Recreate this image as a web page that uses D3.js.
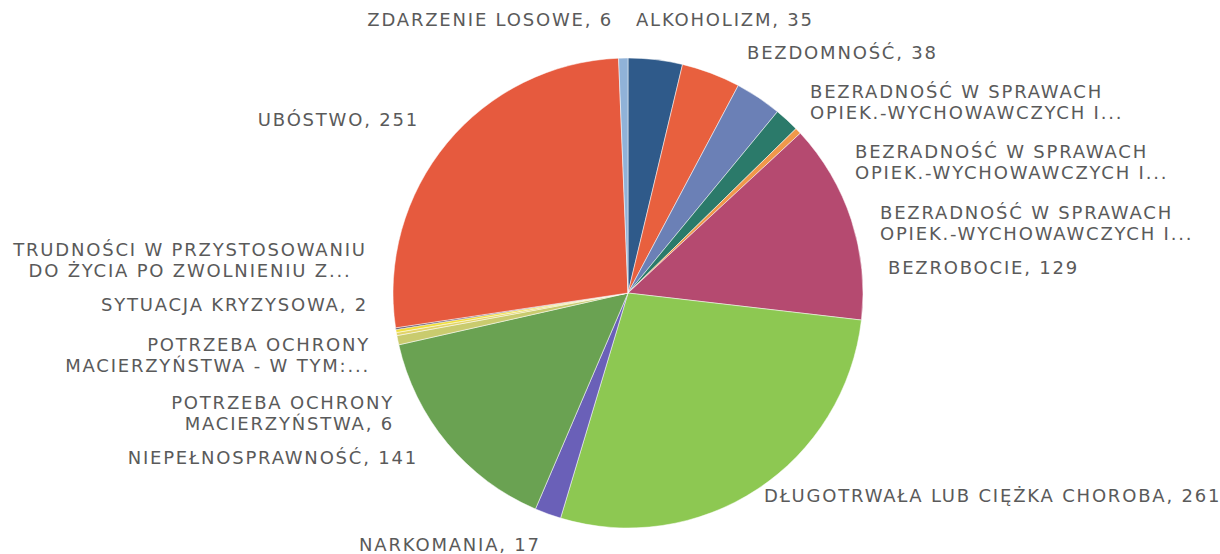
<!DOCTYPE html>
<html><head><meta charset="utf-8">
<script src="https://cdn.jsdelivr.net/npm/d3@7"></script>
<style>html,body{margin:0;padding:0;background:#fff;}svg{display:block;}</style>
</head><body>
<svg id="chart" width="1220" height="554"></svg>
<script>
const categories = [
  "ALKOHOLIZM","BEZDOMNOŚĆ",
  "BEZRADNOŚĆ W SPRAWACH OPIEK.-WYCHOWAWCZYCH I... (1)",
  "BEZRADNOŚĆ W SPRAWACH OPIEK.-WYCHOWAWCZYCH I... (2)",
  "BEZRADNOŚĆ W SPRAWACH OPIEK.-WYCHOWAWCZYCH I... (3)",
  "BEZROBOCIE","DŁUGOTRWAŁA LUB CIĘŻKA CHOROBA","NARKOMANIA","NIEPEŁNOSPRAWNOŚĆ",
  "POTRZEBA OCHRONY MACIERZYŃSTWA","POTRZEBA OCHRONY MACIERZYŃSTWA - W TYM:...",
  "SYTUACJA KRYZYSOWA","TRUDNOŚCI W PRZYSTOSOWANIU DO ŻYCIA PO ZWOLNIENIU Z...",
  "UBÓSTWO","ZDARZENIE LOSOWE"
];
const values = [35, 38, 30, 16, 4, 129, 261, 17, 141, 6, 2, 2, 1, 251, 6];
const colors = ["#2f5a8a","#e8603e","#6b80b6","#2b7a6a","#f0984a","#b54a70","#8dc852","#6a60b8","#6aa252",
                "#c9cb6e","#e2d468","#f0de3c","#4a3d58","#e65a3e","#90b2d8"];
// label text lines, as shown in the chart
const labelLines = [
  ["ALKOHOLIZM, 35"],["BEZDOMNOŚĆ, 38"],
  ["BEZRADNOŚĆ W SPRAWACH","OPIEK.-WYCHOWAWCZYCH I..."],
  ["BEZRADNOŚĆ W SPRAWACH","OPIEK.-WYCHOWAWCZYCH I..."],
  ["BEZRADNOŚĆ W SPRAWACH","OPIEK.-WYCHOWAWCZYCH I..."],
  ["BEZROBOCIE, 129"],["DŁUGOTRWAŁA LUB CIĘŻKA CHOROBA, 261"],["NARKOMANIA, 17"],
  ["NIEPEŁNOSPRAWNOŚĆ, 141"],["POTRZEBA OCHRONY","MACIERZYŃSTWA, 6"],
  ["POTRZEBA OCHRONY","MACIERZYŃSTWA - W TYM:..."],["SYTUACJA KRYZYSOWA, 2"],
  ["TRUDNOŚCI W PRZYSTOSOWANIU","DO ŻYCIA PO ZWOLNIENIU Z..."],
  ["UBÓSTWO, 251"],["ZDARZENIE LOSOWE, 6"]
];
// label placement: [anchor, x, first baseline y]
const labelPos = [
  ["start",636,26],["start",747,59],["start",810,98],["start",855,158],["start",880,219],
  ["start",888,274],["start",764,502],["middle",450,551],["end",418,464],["end",394,409],
  ["end",370,351],["end",368,311],["middle",190,256],["end",419,126],["end",613,26]
];

const svg = d3.select("#chart");
const cx = 628, cy = 293, R = 235;
const pie = d3.pie().sort(null).value(d => d);
const arc = d3.arc().innerRadius(0).outerRadius(R);
const g = svg.append("g").attr("transform", `translate(${cx},${cy})`);
g.selectAll("path").data(pie(values)).join("path")
  .attr("d", arc)
  .attr("fill", (d,i) => colors[i])
  .attr("stroke", "#ffffff").attr("stroke-width", 0.5);

const lab = svg.append("g")
  .attr("font-family", "DejaVu Sans, sans-serif")
  .attr("font-size", 18).attr("fill", "#5a5a5a")
  .style("letter-spacing", "1.8px");
labelLines.forEach((lines, i) => {
  const [anchor, x, y] = labelPos[i];
  const t = lab.append("text").attr("text-anchor", anchor).attr("x", x).attr("y", y);
  lines.forEach((s, k) => t.append("tspan").attr("x", x).attr("y", y + k*21).text(s));
});
</script>
</body></html>
